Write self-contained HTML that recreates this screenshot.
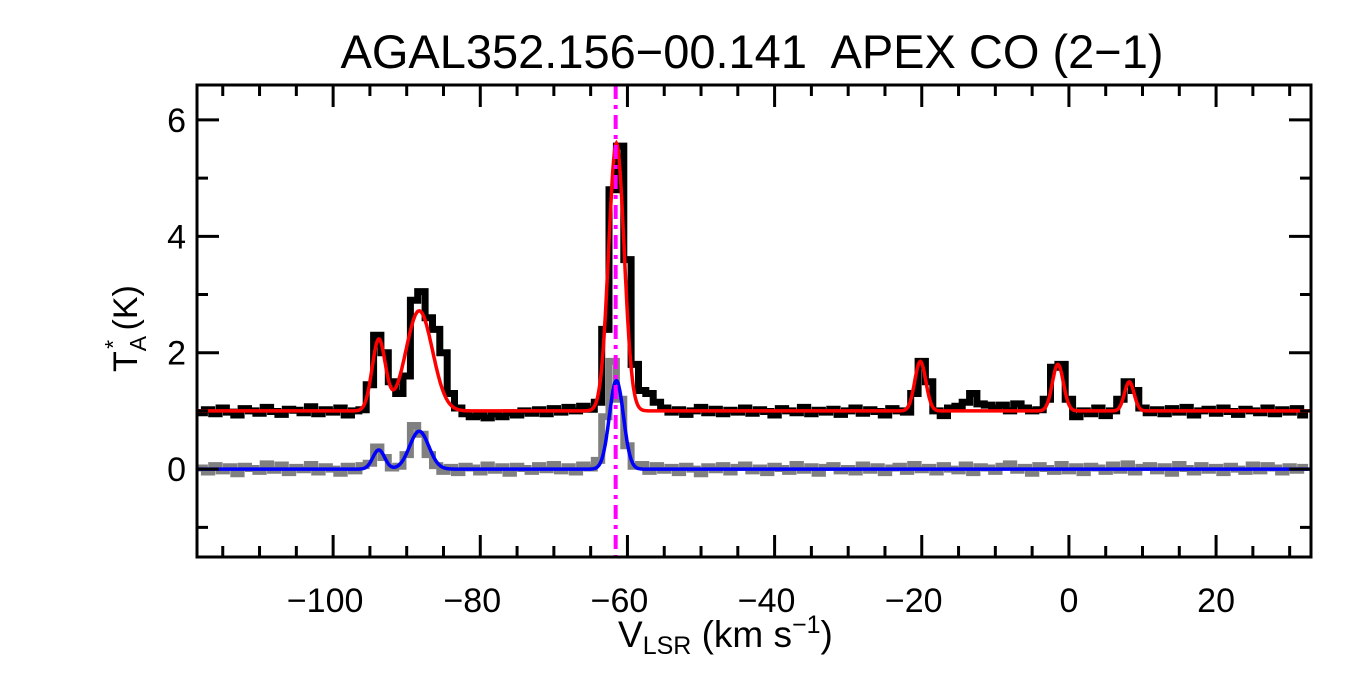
<!DOCTYPE html>
<html><head><meta charset="utf-8"><style>
body{margin:0;background:#fff;}
svg{display:block;font-family:"Liberation Sans",sans-serif;}
</style></head><body>
<svg id="chart" width="1350" height="675">
<text x="752" y="68" font-size="47" text-anchor="middle" xml:space="preserve">AGAL352.156−00.141  APEX CO (2−1)</text>
<g id="plot"></g>
<text x="618" y="647" font-size="37">V<tspan font-size="25" dy="7">LSR</tspan><tspan dy="-7"> (km s</tspan><tspan font-size="25" dy="-14">−1</tspan><tspan dy="14">)</tspan></text>
<g transform="translate(137,372) rotate(-90)"><text x="0" y="0" font-size="34">T<tspan font-size="23" dy="9">A</tspan><tspan font-size="23" dx="-13" dy="-25">*</tspan><tspan dy="16"> (K)</tspan></text></g>
</svg>
<script>
const xMin=-118.5, xMax=32.9, yMin=-1.51, yMax=6.6;
const X0=197, X1=1311, Y0=85, Y1=557;
const xTicks=[-100,-80,-60,-40,-20,0,20];
const yTicks=[0,2,4,6];
const vStart=-118, vStep=1;
const blackData=[0.97,1.02,0.95,1.05,0.98,0.93,1.04,1.00,0.96,1.06,
0.99,0.94,1.03,1.01,0.97,1.07,0.95,1.02,0.98,1.05,
0.93,1.00,1.02,1.45,2.30,2.00,1.50,1.30,1.60,2.90,
3.05,2.60,2.40,2.00,1.30,1.05,0.95,0.90,0.92,0.88,
0.95,0.90,0.97,0.93,1.00,0.96,1.02,0.95,1.04,0.98,
1.06,1.00,1.08,1.03,1.15,2.40,4.80,5.55,3.60,1.80,
1.35,1.30,1.15,1.05,0.98,1.02,0.94,1.00,1.06,0.97,
1.03,0.95,1.01,0.98,1.05,0.96,1.02,0.99,0.93,1.04,
1.00,0.97,1.06,0.95,1.01,0.98,1.03,0.94,1.00,1.05,
0.96,1.02,0.99,0.93,1.04,1.00,0.98,1.30,1.85,1.50,
1.00,0.92,1.05,1.08,1.15,1.30,1.12,1.10,1.05,1.10,
1.00,1.12,1.05,1.00,1.02,1.20,1.75,1.80,1.20,0.90,
1.00,0.95,1.05,0.92,1.00,1.20,1.50,1.35,1.05,0.97,
1.02,0.95,1.04,0.98,1.06,0.93,1.00,1.03,0.96,1.05,
0.99,0.94,1.03,1.00,0.97,1.05,0.95,1.02,0.98,1.04,0.93];
const grayData=[0.02,-0.05,0.06,-0.03,0.04,-0.08,0.05,0.01,-0.04,0.09,
-0.02,0.07,-0.06,0.03,-0.01,0.08,-0.05,0.04,0.00,-0.07,
0.05,-0.03,0.06,0.10,0.38,0.20,0.02,0.05,0.25,0.75,
0.60,0.25,0.06,-0.04,0.03,-0.06,0.05,0.02,-0.05,0.07,
-0.02,0.04,-0.07,0.05,0.01,-0.04,0.06,-0.01,0.08,-0.03,
0.04,-0.05,0.07,0.02,0.15,0.90,1.85,1.20,0.40,0.05,
0.08,-0.04,0.06,-0.02,0.03,-0.06,0.05,0.00,-0.08,0.04,
-0.01,0.06,-0.05,0.03,0.07,-0.03,0.02,-0.06,0.05,0.01,
-0.04,0.08,-0.02,0.04,-0.07,0.03,0.06,-0.03,0.01,-0.05,
0.07,-0.02,0.04,-0.06,0.02,0.05,-0.04,0.08,-0.01,0.03,
-0.05,0.06,0.00,-0.03,0.07,-0.06,0.04,0.02,-0.04,0.05,
0.09,-0.02,0.03,-0.07,0.06,0.01,-0.04,0.08,-0.03,0.04,
-0.06,0.05,0.02,-0.04,0.07,-0.02,0.09,-0.05,0.03,0.06,
-0.03,0.04,-0.07,0.08,0.01,-0.05,0.06,-0.02,0.03,-0.06,
0.05,0.00,-0.04,0.07,-0.03,0.06,0.02,-0.05,0.04,-0.02,0.03];
const redBase=1.0;
const redCenters=[-93.8,-88.3,-61.5,-20.2,-1.5,8.2];
const redAmps=[1.22,1.72,4.6,0.85,0.8,0.5];
const redSigmas=[0.9,1.8,1.05,0.75,0.75,0.65];
const blueBase=0.0;
const blueCenters=[-93.8,-88.3,-61.5];
const blueAmps=[0.33,0.65,1.52];
const blueSigmas=[0.8,1.3,0.95];
const markerV=-61.6;

const sx=v=>X0+(v-xMin)/(xMax-xMin)*(X1-X0);
const sy=t=>Y1-(t-yMin)/(yMax-yMin)*(Y1-Y0);
const NS='http://www.w3.org/2000/svg';
const plot=document.getElementById('plot');
function mk(tag,attrs){const e=document.createElementNS(NS,tag);for(const k in attrs)e.setAttribute(k,attrs[k]);plot.appendChild(e);return e;}
const clip=mk('clipPath',{id:'cp'});
const cr=document.createElementNS(NS,'rect');cr.setAttribute('x',X0);cr.setAttribute('y',Y0);cr.setAttribute('width',X1-X0);cr.setAttribute('height',Y1-Y0);clip.appendChild(cr);

function stepPath(data){let d='';data.forEach((t,i)=>{const v=vStart+i*vStep;const xa=sx(v-vStep/2),xb=sx(v+vStep/2),y=sy(t);d+=(i?'L':'M')+xa.toFixed(1)+','+y.toFixed(1)+'L'+xb.toFixed(1)+','+y.toFixed(1);});return d;}
function modelPath(base,c,a,s){let d='';for(let v=xMin;v<=xMax;v+=0.1){let t=base;for(let k=0;k<c.length;k++)t+=a[k]*Math.exp(-0.5*((v-c[k])/s[k])**2);d+=(d?'L':'M')+sx(v).toFixed(1)+','+sy(t).toFixed(1);}return d;}

const g1=mk('path',{d:stepPath(grayData),fill:'none',stroke:'#808080','stroke-width':7,'clip-path':'url(#cp)'});


const b1=mk('path',{d:stepPath(blackData),fill:'none',stroke:'#000','stroke-width':7,'clip-path':'url(#cp)'});


const r1=mk('path',{d:modelPath(redBase,redCenters,redAmps,redSigmas),fill:'none',stroke:'#ff0000','stroke-width':3.5,'clip-path':'url(#cp)'});


const bl=mk('path',{d:modelPath(blueBase,blueCenters,blueAmps,blueSigmas),fill:'none',stroke:'#0000ff','stroke-width':3.5,'clip-path':'url(#cp)'});


const mv=mk('line',{x1:sx(markerV),x2:sx(markerV),y1:Y0,y2:Y1,stroke:'#ff00ff','stroke-width':4,'stroke-dasharray':'14,6,4,6'});



const fr=mk('rect',{x:X0,y:Y0,width:X1-X0,height:Y1-Y0,fill:'none',stroke:'#000','stroke-width':3});


let td='';
for(let v=-115;v<=xMax;v+=5){const x=sx(v);const L=(v%20===0)?22:11;td+=`M${x},${Y1}v${-L}M${x},${Y0}v${L}`;}
for(let t=-1;t<=yMax;t+=1){const y=sy(t);const L=(t%2===0)?22:11;td+=`M${X0},${y}h${L}M${X1},${y}h${-L}`;}
const tk=mk('path',{d:td,stroke:'#000','stroke-width':3,fill:'none'});


xTicks.forEach(v=>{const t=mk('text',{x:sx(v)-(v<0?8:0),y:612,'font-size':34,'text-anchor':'middle'});t.textContent=(v<0?'−':'')+Math.abs(v);

});
yTicks.forEach(v=>{const t=mk('text',{x:186,y:sy(v)+12,'font-size':34,'text-anchor':'end'});t.textContent=v;

});
</script>
</body></html>
